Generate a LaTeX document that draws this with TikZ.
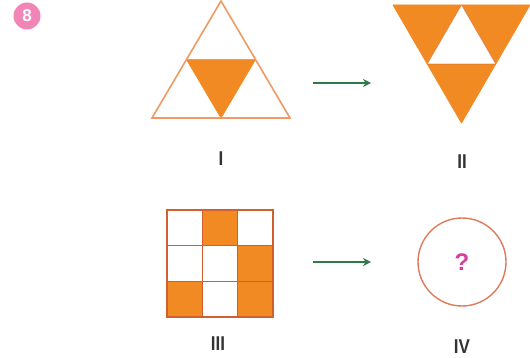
\documentclass[tikz,border=0pt]{standalone}
\usepackage{fontspec}
\setmainfont{Liberation Sans}
\usetikzlibrary{arrows.meta}
\definecolor{orfill}{HTML}{F28A24}
\definecolor{orline}{HTML}{EE9A62}
\definecolor{gridline}{HTML}{D0602E}
\definecolor{circline}{HTML}{E07A5C}
\definecolor{badge}{HTML}{F285B8}
\definecolor{qmark}{HTML}{D4409C}
\definecolor{arrgreen}{HTML}{2E7A48}
\definecolor{labgray}{HTML}{333333}
\tikzset{
  figlabel/.style={font=\bfseries\fontsize{20}{20}\selectfont, text=labgray, inner sep=0pt, xscale=0.85},
  goarrow/.style={draw=arrgreen, line width=2.2pt, -{Stealth[length=8pt,width=8pt]}},
  fillpart/.style={fill=orfill, draw=orfill, line width=0.8pt, line join=round},
}
\begin{document}
\begin{tikzpicture}[x=1pt,y=-1pt]
\useasboundingbox (0,0) rectangle (530,358);
% badge
\node[circle, fill=badge, minimum size=27pt, inner sep=0pt, text=white, font=\bfseries\fontsize{17}{17}\selectfont] (badge8) at (27,16) {8};
% Figure I
\coordinate (Ia) at (221,1);
\coordinate (Ib) at (152,118);
\coordinate (Ic) at (290,118);
\coordinate (Iml) at (186.5,59.5);
\coordinate (Imr) at (255.5,59.5);
\coordinate (Imb) at (221,118);
\fill[fillpart] (Iml) -- (Imr) -- (Imb) -- cycle;
\draw[orline, line width=1.6pt, line join=miter] (Ia) -- (Ib) -- (Ic) -- cycle;
\draw[orline, line width=1.4pt] (Iml) -- (Imr);
\node[figlabel] (labI) at (221,159) {I};
% Figure II
\coordinate (IIa) at (393,5);
\coordinate (IIb) at (530,5);
\coordinate (IIc) at (461.5,123);
\coordinate (IIt) at (461.5,5);
\coordinate (IIml) at (427.25,64);
\coordinate (IImr) at (495.75,64);
\fill[fillpart] (IIa) -- (IIb) -- (IIc) -- cycle;
\fill[white] (IIt) -- (IIml) -- (IImr) -- cycle;
\draw[gridline, line width=0.6pt, opacity=0.6] (IIt) -- (IIml) -- (IImr) -- cycle;
\node[figlabel] (labII) at (462,162) {II};
% arrows
\coordinate (A1s) at (313,83);
\coordinate (A1e) at (371,83);
\draw[goarrow] (A1s) -- (A1e);
\coordinate (A2s) at (313,262);
\coordinate (A2e) at (371,262);
\draw[goarrow] (A2s) -- (A2e);
% Figure III
\fill[orfill] (202.3,210) rectangle (237.7,245.7);
\fill[orfill] (237.7,245.7) rectangle (273,317);
\fill[orfill] (167,281.3) rectangle (202.3,317);
\draw[gridline, line width=1.3pt] (167,210) rectangle (273,317);
\draw[gridline, line width=1.1pt] (202.3,210) -- (202.3,317) (237.7,210) -- (237.7,317)
  (167,245.7) -- (273,245.7) (167,281.3) -- (273,281.3);
\node[figlabel] (labIII) at (218,344) {III};
% Figure IV
\node[circle, draw=circline, line width=1.4pt, minimum size=88pt, inner sep=0pt, text=qmark, font=\bfseries\fontsize{24}{24}\selectfont] (circIV) at (462,262) {?};
\node[figlabel] (labIV) at (462,347) {IV};
\end{tikzpicture}
\end{document}
